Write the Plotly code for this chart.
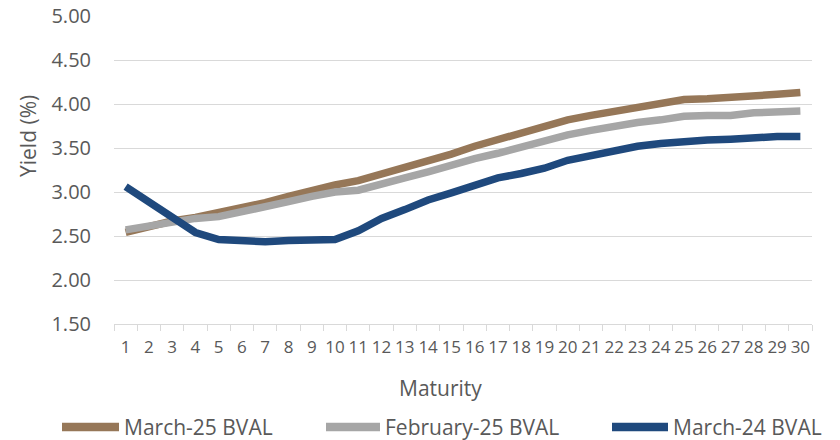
import plotly.graph_objects as go

maturity = [str(i) for i in range(1, 31)]
march25 = [2.54, 2.61, 2.67, 2.71, 2.76, 2.82, 2.88, 2.95, 3.02, 3.08,
           3.13, 3.20, 3.28, 3.35, 3.43, 3.52, 3.60, 3.68, 3.76, 3.82,
           3.87, 3.92, 3.97, 4.01, 4.05, 4.06, 4.07, 4.10, 4.11, 4.13]
feb25 = [2.57, 2.62, 2.66, 2.70, 2.72, 2.77, 2.83, 2.89, 2.95, 3.00,
         3.02, 3.08, 3.16, 3.23, 3.31, 3.38, 3.44, 3.51, 3.59, 3.65,
         3.70, 3.75, 3.79, 3.82, 3.86, 3.87, 3.87, 3.90, 3.91, 3.92]
march24 = [3.06, 2.88, 2.70, 2.54, 2.46, 2.45, 2.435, 2.45, 2.455, 2.46,
           2.56, 2.70, 2.80, 2.91, 2.99, 3.08, 3.16, 3.21, 3.27, 3.36,
           3.42, 3.47, 3.52, 3.55, 3.58, 3.59, 3.60, 3.62, 3.63, 3.63]

series_names = ["March-25 BVAL", "February-25 BVAL", "March-24 BVAL"]
series_values = [march25, feb25, march24]
series_colors = ["#967758", "#A6A6A6", "#1F497D"]

FONT = "Open Sans, Liberation Sans, sans-serif"
TXT = "#595959"

W, H = 840, 440
L, R, T, B = 114, 28, 16, 116
PW, PH = W - L - R, H - T - B


def px(x):
    return (x - L) / PW


def py(y):
    return (H - B - y) / PH


fig = go.Figure()
for name, vals, col in zip(series_names, series_values, series_colors):
    fig.add_trace(go.Scatter(x=maturity, y=vals, name=name, mode="lines",
                             line=dict(color=col, width=7.5),
                             showlegend=False))

annotations = [
    dict(text="Yield (%)", x=px(28), y=py(136), xref="paper", yref="paper",
         textangle=-90, showarrow=False, xanchor="center", yanchor="middle",
         font=dict(family=FONT, size=21, color=TXT)),
    dict(text="Maturity", x=px(440), y=py(388), xref="paper", yref="paper",
         showarrow=False, xanchor="center", yanchor="middle",
         font=dict(family=FONT, size=21, color=TXT)),
]
shapes = []
leg_line = [(62, 119), (326, 380), (612, 668)]
leg_text = [122, 383, 671]
for (a, b), tx, name, col in zip(leg_line, leg_text, series_names, series_colors):
    shapes.append(dict(type="line", xref="paper", yref="paper",
                       x0=px(a), x1=px(b), y0=py(427), y1=py(427),
                       line=dict(color=col, width=8.5)))
    annotations.append(dict(text=name, x=px(tx), y=py(427), xref="paper",
                            yref="paper", showarrow=False, xanchor="left",
                            yanchor="middle",
                            font=dict(family=FONT, size=21, color=TXT)))

fig.update_layout(
    width=W, height=H,
    margin=dict(l=L, r=R, t=T, b=B, pad=0, autoexpand=False),
    paper_bgcolor="white", plot_bgcolor="white",
    showlegend=False,
    font=dict(family=FONT, color=TXT),
    annotations=annotations,
    shapes=shapes,
    xaxis=dict(type="category", range=[-0.5, 29.5], automargin=False,
               showgrid=False, showline=True,
               linecolor="#D9D9D9", linewidth=1, ticks="outside",
               tickson="boundaries", ticklen=6, tickcolor="#D9D9D9",
               tickangle=0, tickfont=dict(family=FONT, size=17, color=TXT),
               ticklabelstandoff=8, zeroline=False),
    yaxis=dict(range=[1.5, 5.0], dtick=0.5, tick0=1.5, tickformat=".2f",
               automargin=False,
               showgrid=True, gridcolor="#D9D9D9", gridwidth=1,
               zeroline=False, showline=False, ticks="",
               tickfont=dict(family=FONT, size=20, color=TXT),
               ticklabelstandoff=22),
)

fig.write_html("out.html",
               config={"displayModeBar": False},
               post_script="document.body.style.margin='0';"
                           "document.body.style.padding='0';")
